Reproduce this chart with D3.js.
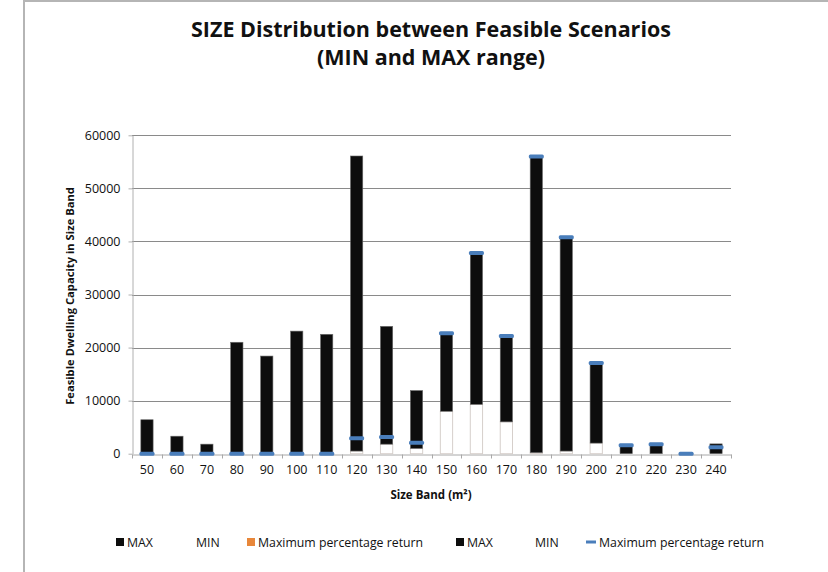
<!DOCTYPE html>
<html>
<head>
<meta charset="utf-8">
<script src="https://cdn.jsdelivr.net/npm/d3@7"></script>
<style>
  body { margin: 0; background: #fff; }
  svg { display: block; }
  text { font-family: "Open Sans", Lato, sans-serif; fill: #111; }
</style>
</head>
<body>
<svg id="chart" width="828" height="572"></svg>
<script>
// Size bands (m²)
const sizeBands = ["50", "60", "70", "80", "90", "100", "110", "120", "130", "140",
                   "150", "160", "170", "180", "190", "200", "210", "220", "230", "240"];
// Lower end of the feasible range per band
const minValues = [0, 0, 0, 0, 0, 0, 0, 500, 1800, 1000,
                   8000, 9300, 6000, 200, 500, 2000, 0, 0, 0, 0];
// Upper end of the feasible range per band
const maxValues = [6400, 3300, 1800, 21000, 18400, 23100, 22500, 56100, 24000, 11900,
                   22600, 37700, 22100, 55900, 40700, 17000, 1500, 1700, 0, 1850];
// Capacity under the maximum percentage return scenario
const maxReturn = [0, 0, 0, 0, 0, 0, 0, 2900, 3150, 2050,
                   22700, 37800, 22200, 56000, 40800, 17100, 1600, 1800, 0, 1200];
const yTicks = [0, 10000, 20000, 30000, 40000, 50000, 60000];

const legendItems = [
  { label: "MAX", swatch: "square", color: "#0d0d0d", x: 116 },
  { label: "MIN", swatch: "none", color: "#ffffff", x: 185 },
  { label: "Maximum percentage return", swatch: "square", color: "#e8873a", x: 247 },
  { label: "MAX", swatch: "square", color: "#0d0d0d", x: 456 },
  { label: "MIN", swatch: "none", color: "#ffffff", x: 524 },
  { label: "Maximum percentage return", swatch: "dash", color: "#4a7ebb", x: 586 }
];

const svg = d3.select("#chart");
const W = 828, H = 572;
const plot = { left: 132, right: 731, top: 135.3, bottom: 453.7 };
const FONT = "'Open Sans', Lato, sans-serif";

// chart frame
svg.append("rect")
  .attr("x", 24).attr("y", 1)
  .attr("width", W + 10).attr("height", H + 10)
  .attr("fill", "#fff")
  .attr("stroke", "#b5b5b5").attr("stroke-width", 2);

const x = d3.scaleBand()
  .domain(sizeBands)
  .range([plot.left, plot.right])
  .paddingInner(0.59)
  .paddingOuter(0.295);

const y = d3.scaleLinear()
  .domain([0, 60000])
  .range([plot.bottom, plot.top]);

// gridlines
svg.append("g")
  .selectAll("line")
  .data(yTicks.filter(d => d > 0))
  .join("line")
  .attr("x1", plot.left).attr("x2", plot.right)
  .attr("y1", d => Math.round(y(d)) + 0.5).attr("y2", d => Math.round(y(d)) + 0.5)
  .attr("stroke", "#8a8a8a").attr("stroke-width", 1);

// y axis
const yAxis = svg.append("g")
  .attr("transform", `translate(${plot.left + 0.5},0)`)
  .call(d3.axisLeft(y).tickValues(yTicks).tickSize(4).tickSizeOuter(0).tickPadding(8)
        .tickFormat(d3.format("d")));
yAxis.select(".domain").attr("stroke", "#b0b0b0");
yAxis.selectAll(".tick line").attr("stroke", "#b0b0b0");
yAxis.selectAll(".tick text")
  .attr("font-family", FONT)
  .attr("font-size", 12.5).attr("fill", "#1a1a1a");

// x axis: labels centred on bands, tick marks on band boundaries
const xAxis = svg.append("g")
  .attr("transform", `translate(0,${Math.round(plot.bottom) + 0.5})`)
  .call(d3.axisBottom(x).tickSize(0).tickPadding(11).tickSizeOuter(0));
xAxis.select(".domain").attr("stroke", "#a8a8a8");
xAxis.selectAll(".tick text")
  .attr("font-family", FONT)
  .attr("font-size", 12.5).attr("fill", "#1a1a1a");
xAxis.selectAll("line.boundary")
  .data(d3.range(sizeBands.length + 1))
  .join("line")
  .attr("class", "boundary")
  .attr("x1", i => Math.round(plot.left + i * x.step()) + 0.5)
  .attr("x2", i => Math.round(plot.left + i * x.step()) + 0.5)
  .attr("y1", 0).attr("y2", 4)
  .attr("stroke", "#a8a8a8");

const rows = sizeBands.map((band, i) => ({
  band, min: minValues[i], max: maxValues[i], ret: maxReturn[i]
}));

// MIN bars (white, light outline)
svg.append("g")
  .selectAll("rect")
  .data(rows.filter(d => d.min > 0))
  .join("rect")
  .attr("x", d => x(d.band))
  .attr("y", d => y(d.min))
  .attr("width", x.bandwidth())
  .attr("height", d => y(0) - y(d.min))
  .attr("fill", "#ffffff")
  .attr("stroke", "#d6cfcb").attr("stroke-width", 1);

// MAX bars spanning MIN..MAX
svg.append("g")
  .selectAll("rect")
  .data(rows.filter(d => d.max > d.min))
  .join("rect")
  .attr("x", d => x(d.band))
  .attr("y", d => y(d.max))
  .attr("width", x.bandwidth())
  .attr("height", d => y(d.min) - y(d.max))
  .attr("fill", "#0d0d0d")
  .attr("stroke", "#6b6b6b").attr("stroke-width", 0.6);

// maximum percentage return markers
svg.append("g")
  .selectAll("rect")
  .data(rows)
  .join("rect")
  .attr("x", d => x(d.band) + x.bandwidth() / 2 - 7.5)
  .attr("y", d => y(d.ret) - 2)
  .attr("width", 15).attr("height", 4)
  .attr("rx", 1.5)
  .attr("fill", "#4a7ebb");

// titles
const title = svg.append("text")
  .attr("text-anchor", "middle")
  .attr("font-family", FONT)
  .attr("font-weight", "bold")
  .attr("font-size", 21.5);
title.append("tspan").attr("x", 431).attr("y", 37).text("SIZE Distribution between Feasible Scenarios");
title.append("tspan").attr("x", 431).attr("y", 64.5).text("(MIN and MAX range)");

svg.append("text")
  .attr("x", 431).attr("y", 499)
  .attr("text-anchor", "middle")
  .attr("font-family", FONT)
  .attr("font-weight", "bold").attr("font-size", 11.5)
  .text("Size Band (m²)");

svg.append("text")
  .attr("transform", `translate(74,296) rotate(-90)`)
  .attr("text-anchor", "middle")
  .attr("font-family", FONT)
  .attr("font-weight", "bold").attr("font-size", 11.2)
  .text("Feasible Dwelling Capacity in Size Band");

// legend
const legend = svg.append("g").attr("transform", "translate(0,542)");
const li = legend.selectAll("g").data(legendItems).join("g")
  .attr("transform", d => `translate(${d.x},0)`);
li.filter(d => d.swatch === "square").append("rect")
  .attr("x", 0).attr("y", -4).attr("width", 8).attr("height", 8)
  .attr("fill", d => d.color);
li.filter(d => d.swatch === "dash").append("rect")
  .attr("x", 0).attr("y", -1.5).attr("width", 10).attr("height", 3)
  .attr("fill", d => d.color);
li.append("text")
  .attr("x", d => d.swatch === "dash" ? 13 : 11)
  .attr("y", 4.5)
  .attr("font-family", FONT)
  .attr("font-size", 12.3)
  .attr("fill", "#1a1a1a")
  .text(d => d.label);
</script>
</body>
</html>
